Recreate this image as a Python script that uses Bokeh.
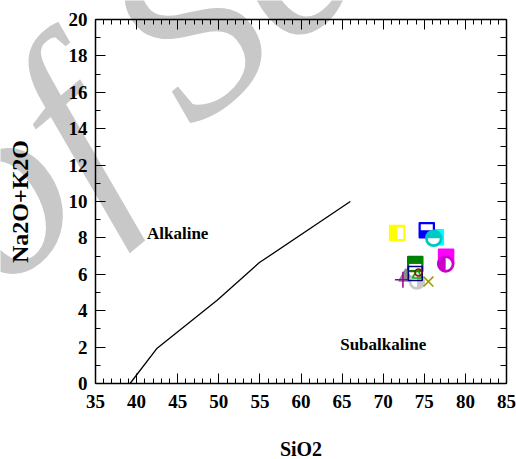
from bokeh.plotting import figure
from bokeh.models import Range1d, LinearAxis, FixedTicker, Label
from bokeh.embed import file_html
from bokeh.resources import INLINE

# Alkaline / subalkaline dividing line (Irvine & Baragar)
divide_sio2 = [39.2, 42.5, 49.8, 54.9, 66.0]
divide_alkali = [0.0, 1.94, 4.57, 6.63, 10.0]

# Sample analyses (wt%)
sample_sio2 = [76.4, 75.3, 76.15, 71.7, 77.65, 77.6, 73.9, 72.75, 72.4, 74.1, 74.15, 73.9, 74.3, 75.5]
sample_alkali = [8.03, 8.42, 7.98, 8.27, 6.97, 6.57, 6.57, 5.85, 5.7, 5.6, 5.95, 6.05, 6.1, 5.6]

# Axis ticks
x_major = list(range(35, 86, 5))
x_minor = list(range(35, 86, 1))
y_major = list(range(0, 21, 2))
y_minor = list(range(0, 21, 1))

# Symbol for each sample: marker, colour, filled, size, white-shaded part
symbols = [
    ("square", "#00ffff", True, 15, None),
    ("square", "#0000ff", True, 15, "top"),
    ("circle", "#00c8c8", True, 16, "bottom"),
    ("square", "#ffff00", True, 15, "right"),
    ("square", "#ff00ff", True, 15, None),
    ("circle", "#cc00cc", True, 16, "right"),
    ("square", "#008000", True, 15, "bottom"),
    ("triangle", "#8c8c8c", True, 14, None),
    ("cross", "#990099", False, 16, None),
    ("circle", "#c8c8c8", True, 15, "left"),
    ("triangle", "#00b000", False, 10, None),
    ("square", "#000080", False, 14, None),
    ("circle", "#b00000", False, 7, None),
    ("x", "#999900", False, 14, None),
]

X0, X1, Y0, Y1 = 35, 85, 0, 20
W, H = 516, 459
# margins around the axes box, in pixels
ML, MR, MT, MB = 95, 10, 19, 76
px_x = (W - ML - MR) / (X1 - X0)
px_y = (H - MT - MB) / (Y1 - Y0)

FONT = "'Liberation Serif', 'Times New Roman', serif"


def from_screen(sx, sy):
    """Canvas pixel position -> data coordinates."""
    return X0 + (sx - ML) / px_x, Y0 + ((H - MB) - sy) / px_y


# the drawing area fills the whole canvas; the axes sit at fixed positions
p = figure(width=W, height=H,
           x_range=Range1d(X0 - ML / px_x, X1 + MR / px_x),
           y_range=Range1d(Y0 - MB / px_y, Y1 + MT / px_y),
           output_backend="svg", toolbar_location=None, min_border=0,
           x_axis_location=None, y_axis_location=None)
p.grid.visible = False
p.outline_line_color = None
p.background_fill_color = "white"
p.border_fill_color = "white"

# watermark (axes are painted above it)
wx, wy = from_screen(-54, 230)
p.add_layout(Label(x=wx, y=wy, text="of Se", angle=0.698, text_baseline="alphabetic",
                   text_font=FONT, text_font_style="italic",
                   text_font_size="246px", text_color="#c8c8c8"))


def make_axis(side, fixed, bounds, ticks, minor, show_labels, major_len, minor_len):
    ax = LinearAxis(fixed_location=fixed, bounds=bounds)
    ax.level = "overlay"
    ax.ticker = FixedTicker(ticks=ticks, minor_ticks=minor)
    ax.axis_line_color = "black"
    ax.axis_line_width = 1.5
    ax.major_tick_in = major_len
    ax.major_tick_out = 0
    ax.minor_tick_in = minor_len
    ax.minor_tick_out = 0
    ax.major_tick_line_color = "black"
    ax.minor_tick_line_color = "black"
    ax.major_tick_line_width = 1
    ax.minor_tick_line_width = 1
    ax.major_label_text_font = FONT
    ax.major_label_text_font_style = "bold"
    ax.major_label_text_color = "black"
    ax.major_label_text_font_size = "19px" if show_labels else "0px"
    ax.axis_label_text_font = FONT
    ax.axis_label_text_font_style = "bold"
    ax.axis_label_text_color = "black"
    p.add_layout(ax, side)
    return ax


xa = make_axis("below", Y0, (X0, X1), x_major, x_minor, True, 10, 5)
xa.axis_label = "SiO2"
xa.major_label_standoff = 11
xa.axis_label_standoff = 27
xa.axis_label_text_font_size = "20px"

ya = make_axis("left", X0, (Y0, Y1), y_major, y_minor, True, 10, 5)
ya.axis_label = "Na2O+K2O"
ya.major_label_standoff = 8
ya.axis_label_standoff = 33
ya.axis_label_text_font_size = "24px"

make_axis("above", Y1, (X0, X1), x_major, x_minor, False, 10, 5)
make_axis("right", X1, (Y0, Y1), y_major, y_minor, False, 9, 6)

# dividing line
p.line(divide_sio2, divide_alkali, line_color="black", line_width=1.3)

# region labels
for txt, lx, ly in [("Alkaline", 45.0, 8.22), ("Subalkaline", 70.0, 2.17)]:
    p.add_layout(Label(x=lx, y=ly, text=txt, text_font=FONT, text_font_style="bold",
                       text_font_size="17px", text_align="center", text_baseline="middle",
                       text_color="black"))

# samples
for sx, sy, (marker, col, filled, size, shade) in zip(sample_sio2, sample_alkali, symbols):
    p.scatter([sx], [sy], marker=marker, size=size, line_color=col,
              fill_color=col if filled else None, line_width=1.5)
    if shade is None:
        continue
    if marker == "square":
        inner = size - 3
        half = inner / 2
        if shade in ("left", "right"):
            dx = (half / 2) * (1 if shade == "right" else -1)
            p.rect([sx + dx / px_x], [sy], width=half, height=inner,
                   width_units="screen", height_units="screen",
                   fill_color="white", line_color=None)
        else:
            dy = (half / 2) * (1 if shade == "top" else -1)
            p.rect([sx], [sy + dy / px_y], width=inner, height=half,
                   width_units="screen", height_units="screen",
                   fill_color="white", line_color=None)
    else:
        start, end = {"right": (-1.5708, 1.5708), "left": (1.5708, 4.7124),
                      "bottom": (3.1416, 6.2832), "top": (0, 3.1416)}[shade]
        p.wedge([sx], [sy], radius=size / 2 - 2, radius_units="screen",
                start_angle=start, end_angle=end, fill_color="white", line_color=None)

open("out.html", "w").write(file_html(p, INLINE))
